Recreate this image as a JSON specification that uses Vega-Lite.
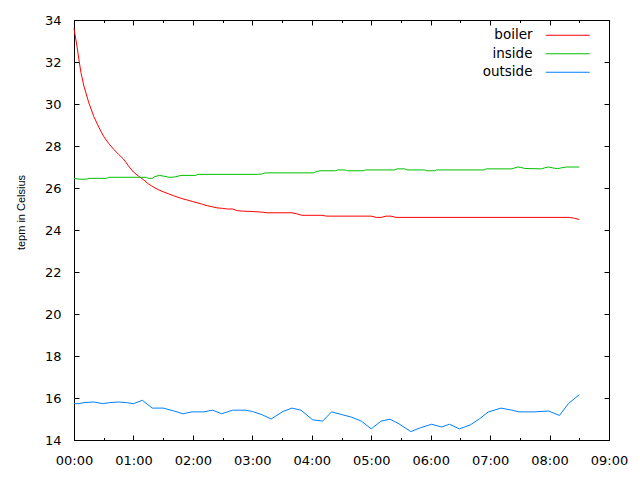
{
  "$schema": "https://vega.github.io/schema/vega-lite/v6.json",
  "autosize": {"type": "none"},
  "padding": {"left": 74, "top": 20, "right": 31, "bottom": 40},
  "width": 535,
  "height": 420,
  "background": "white",
  "data": {"values": [
    {"t": "2020-01-01T00:00", "series": "boiler", "v": 33.6},
    {"t": "2020-01-01T00:03", "series": "boiler", "v": 32.75},
    {"t": "2020-01-01T00:05", "series": "boiler", "v": 32.1},
    {"t": "2020-01-01T00:07", "series": "boiler", "v": 31.5},
    {"t": "2020-01-01T00:10", "series": "boiler", "v": 30.85},
    {"t": "2020-01-01T00:15", "series": "boiler", "v": 30.05},
    {"t": "2020-01-01T00:20", "series": "boiler", "v": 29.4},
    {"t": "2020-01-01T00:25", "series": "boiler", "v": 28.9},
    {"t": "2020-01-01T00:30", "series": "boiler", "v": 28.45},
    {"t": "2020-01-01T00:35", "series": "boiler", "v": 28.12},
    {"t": "2020-01-01T00:40", "series": "boiler", "v": 27.85},
    {"t": "2020-01-01T00:45", "series": "boiler", "v": 27.6},
    {"t": "2020-01-01T00:50", "series": "boiler", "v": 27.38},
    {"t": "2020-01-01T00:55", "series": "boiler", "v": 27.05},
    {"t": "2020-01-01T01:00", "series": "boiler", "v": 26.76},
    {"t": "2020-01-01T01:05", "series": "boiler", "v": 26.57},
    {"t": "2020-01-01T01:10", "series": "boiler", "v": 26.4},
    {"t": "2020-01-01T01:15", "series": "boiler", "v": 26.2},
    {"t": "2020-01-01T01:20", "series": "boiler", "v": 26.05},
    {"t": "2020-01-01T01:25", "series": "boiler", "v": 25.92},
    {"t": "2020-01-01T01:30", "series": "boiler", "v": 25.82},
    {"t": "2020-01-01T01:35", "series": "boiler", "v": 25.73},
    {"t": "2020-01-01T01:40", "series": "boiler", "v": 25.64},
    {"t": "2020-01-01T01:45", "series": "boiler", "v": 25.56},
    {"t": "2020-01-01T01:50", "series": "boiler", "v": 25.48},
    {"t": "2020-01-01T01:55", "series": "boiler", "v": 25.42},
    {"t": "2020-01-01T02:00", "series": "boiler", "v": 25.35},
    {"t": "2020-01-01T02:05", "series": "boiler", "v": 25.29},
    {"t": "2020-01-01T02:10", "series": "boiler", "v": 25.22},
    {"t": "2020-01-01T02:15", "series": "boiler", "v": 25.15},
    {"t": "2020-01-01T02:20", "series": "boiler", "v": 25.1},
    {"t": "2020-01-01T02:25", "series": "boiler", "v": 25.05},
    {"t": "2020-01-01T02:30", "series": "boiler", "v": 25.03},
    {"t": "2020-01-01T02:35", "series": "boiler", "v": 25.0},
    {"t": "2020-01-01T02:40", "series": "boiler", "v": 25.0},
    {"t": "2020-01-01T02:45", "series": "boiler", "v": 24.92},
    {"t": "2020-01-01T02:50", "series": "boiler", "v": 24.9},
    {"t": "2020-01-01T03:00", "series": "boiler", "v": 24.88},
    {"t": "2020-01-01T03:10", "series": "boiler", "v": 24.85},
    {"t": "2020-01-01T03:15", "series": "boiler", "v": 24.82},
    {"t": "2020-01-01T03:40", "series": "boiler", "v": 24.82},
    {"t": "2020-01-01T03:45", "series": "boiler", "v": 24.77},
    {"t": "2020-01-01T03:50", "series": "boiler", "v": 24.7},
    {"t": "2020-01-01T04:10", "series": "boiler", "v": 24.7},
    {"t": "2020-01-01T04:15", "series": "boiler", "v": 24.66},
    {"t": "2020-01-01T05:00", "series": "boiler", "v": 24.66},
    {"t": "2020-01-01T05:05", "series": "boiler", "v": 24.6},
    {"t": "2020-01-01T05:10", "series": "boiler", "v": 24.6},
    {"t": "2020-01-01T05:15", "series": "boiler", "v": 24.66},
    {"t": "2020-01-01T05:20", "series": "boiler", "v": 24.66},
    {"t": "2020-01-01T05:25", "series": "boiler", "v": 24.6},
    {"t": "2020-01-01T08:20", "series": "boiler", "v": 24.6},
    {"t": "2020-01-01T08:25", "series": "boiler", "v": 24.56},
    {"t": "2020-01-01T08:30", "series": "boiler", "v": 24.5},
    {"t": "2020-01-01T00:00", "series": "inside", "v": 26.46},
    {"t": "2020-01-01T00:05", "series": "inside", "v": 26.42},
    {"t": "2020-01-01T00:13", "series": "inside", "v": 26.42},
    {"t": "2020-01-01T00:15", "series": "inside", "v": 26.46},
    {"t": "2020-01-01T00:33", "series": "inside", "v": 26.46},
    {"t": "2020-01-01T00:35", "series": "inside", "v": 26.51},
    {"t": "2020-01-01T01:13", "series": "inside", "v": 26.51},
    {"t": "2020-01-01T01:15", "series": "inside", "v": 26.46},
    {"t": "2020-01-01T01:19", "series": "inside", "v": 26.46},
    {"t": "2020-01-01T01:21", "series": "inside", "v": 26.53},
    {"t": "2020-01-01T01:26", "series": "inside", "v": 26.6},
    {"t": "2020-01-01T01:31", "series": "inside", "v": 26.56},
    {"t": "2020-01-01T01:36", "series": "inside", "v": 26.51},
    {"t": "2020-01-01T01:41", "series": "inside", "v": 26.52},
    {"t": "2020-01-01T01:44", "series": "inside", "v": 26.55},
    {"t": "2020-01-01T01:48", "series": "inside", "v": 26.6},
    {"t": "2020-01-01T02:03", "series": "inside", "v": 26.6},
    {"t": "2020-01-01T02:05", "series": "inside", "v": 26.65},
    {"t": "2020-01-01T03:05", "series": "inside", "v": 26.65},
    {"t": "2020-01-01T03:10", "series": "inside", "v": 26.67},
    {"t": "2020-01-01T03:13", "series": "inside", "v": 26.72},
    {"t": "2020-01-01T04:02", "series": "inside", "v": 26.72},
    {"t": "2020-01-01T04:04", "series": "inside", "v": 26.77},
    {"t": "2020-01-01T04:08", "series": "inside", "v": 26.82},
    {"t": "2020-01-01T04:24", "series": "inside", "v": 26.82},
    {"t": "2020-01-01T04:26", "series": "inside", "v": 26.86},
    {"t": "2020-01-01T04:34", "series": "inside", "v": 26.86},
    {"t": "2020-01-01T04:36", "series": "inside", "v": 26.82},
    {"t": "2020-01-01T04:52", "series": "inside", "v": 26.82},
    {"t": "2020-01-01T04:54", "series": "inside", "v": 26.86},
    {"t": "2020-01-01T05:24", "series": "inside", "v": 26.86},
    {"t": "2020-01-01T05:26", "series": "inside", "v": 26.91},
    {"t": "2020-01-01T05:34", "series": "inside", "v": 26.91},
    {"t": "2020-01-01T05:36", "series": "inside", "v": 26.86},
    {"t": "2020-01-01T05:54", "series": "inside", "v": 26.86},
    {"t": "2020-01-01T05:56", "series": "inside", "v": 26.82},
    {"t": "2020-01-01T06:04", "series": "inside", "v": 26.82},
    {"t": "2020-01-01T06:06", "series": "inside", "v": 26.86},
    {"t": "2020-01-01T06:54", "series": "inside", "v": 26.86},
    {"t": "2020-01-01T06:56", "series": "inside", "v": 26.91},
    {"t": "2020-01-01T07:22", "series": "inside", "v": 26.91},
    {"t": "2020-01-01T07:25", "series": "inside", "v": 26.96},
    {"t": "2020-01-01T07:28", "series": "inside", "v": 27.0},
    {"t": "2020-01-01T07:31", "series": "inside", "v": 26.98},
    {"t": "2020-01-01T07:35", "series": "inside", "v": 26.93},
    {"t": "2020-01-01T07:52", "series": "inside", "v": 26.91},
    {"t": "2020-01-01T07:55", "series": "inside", "v": 26.96},
    {"t": "2020-01-01T07:59", "series": "inside", "v": 27.0},
    {"t": "2020-01-01T08:03", "series": "inside", "v": 26.96},
    {"t": "2020-01-01T08:08", "series": "inside", "v": 26.92},
    {"t": "2020-01-01T08:12", "series": "inside", "v": 26.96},
    {"t": "2020-01-01T08:17", "series": "inside", "v": 27.0},
    {"t": "2020-01-01T08:30", "series": "inside", "v": 27.0},
    {"t": "2020-01-01T00:00", "series": "outside", "v": 15.73},
    {"t": "2020-01-01T00:05", "series": "outside", "v": 15.73},
    {"t": "2020-01-01T00:10", "series": "outside", "v": 15.78},
    {"t": "2020-01-01T00:20", "series": "outside", "v": 15.81},
    {"t": "2020-01-01T00:29", "series": "outside", "v": 15.73},
    {"t": "2020-01-01T00:36", "series": "outside", "v": 15.78},
    {"t": "2020-01-01T00:45", "series": "outside", "v": 15.81},
    {"t": "2020-01-01T00:53", "series": "outside", "v": 15.78},
    {"t": "2020-01-01T01:00", "series": "outside", "v": 15.73},
    {"t": "2020-01-01T01:09", "series": "outside", "v": 15.89},
    {"t": "2020-01-01T01:19", "series": "outside", "v": 15.52},
    {"t": "2020-01-01T01:30", "series": "outside", "v": 15.52},
    {"t": "2020-01-01T01:41", "series": "outside", "v": 15.38},
    {"t": "2020-01-01T01:50", "series": "outside", "v": 15.25},
    {"t": "2020-01-01T01:59", "series": "outside", "v": 15.34},
    {"t": "2020-01-01T02:11", "series": "outside", "v": 15.34},
    {"t": "2020-01-01T02:20", "series": "outside", "v": 15.42},
    {"t": "2020-01-01T02:29", "series": "outside", "v": 15.25},
    {"t": "2020-01-01T02:40", "series": "outside", "v": 15.42},
    {"t": "2020-01-01T02:53", "series": "outside", "v": 15.42},
    {"t": "2020-01-01T03:00", "series": "outside", "v": 15.36},
    {"t": "2020-01-01T03:10", "series": "outside", "v": 15.2},
    {"t": "2020-01-01T03:19", "series": "outside", "v": 15.0},
    {"t": "2020-01-01T03:31", "series": "outside", "v": 15.36},
    {"t": "2020-01-01T03:40", "series": "outside", "v": 15.52},
    {"t": "2020-01-01T03:49", "series": "outside", "v": 15.42},
    {"t": "2020-01-01T04:01", "series": "outside", "v": 14.96},
    {"t": "2020-01-01T04:11", "series": "outside", "v": 14.9},
    {"t": "2020-01-01T04:20", "series": "outside", "v": 15.34},
    {"t": "2020-01-01T04:31", "series": "outside", "v": 15.2},
    {"t": "2020-01-01T04:40", "series": "outside", "v": 15.09},
    {"t": "2020-01-01T04:50", "series": "outside", "v": 14.9},
    {"t": "2020-01-01T05:00", "series": "outside", "v": 14.53},
    {"t": "2020-01-01T05:10", "series": "outside", "v": 14.9},
    {"t": "2020-01-01T05:19", "series": "outside", "v": 14.99},
    {"t": "2020-01-01T05:28", "series": "outside", "v": 14.77},
    {"t": "2020-01-01T05:40", "series": "outside", "v": 14.4},
    {"t": "2020-01-01T05:50", "series": "outside", "v": 14.59},
    {"t": "2020-01-01T06:01", "series": "outside", "v": 14.75},
    {"t": "2020-01-01T06:11", "series": "outside", "v": 14.62},
    {"t": "2020-01-01T06:19", "series": "outside", "v": 14.75},
    {"t": "2020-01-01T06:29", "series": "outside", "v": 14.53},
    {"t": "2020-01-01T06:40", "series": "outside", "v": 14.72},
    {"t": "2020-01-01T06:49", "series": "outside", "v": 15.0},
    {"t": "2020-01-01T06:58", "series": "outside", "v": 15.33},
    {"t": "2020-01-01T07:11", "series": "outside", "v": 15.52},
    {"t": "2020-01-01T07:22", "series": "outside", "v": 15.42},
    {"t": "2020-01-01T07:29", "series": "outside", "v": 15.34},
    {"t": "2020-01-01T07:45", "series": "outside", "v": 15.34},
    {"t": "2020-01-01T07:59", "series": "outside", "v": 15.38},
    {"t": "2020-01-01T08:10", "series": "outside", "v": 15.17},
    {"t": "2020-01-01T08:19", "series": "outside", "v": 15.73},
    {"t": "2020-01-01T08:30", "series": "outside", "v": 16.16}
  ]},
  "layer": [
    {
      "mark": {"type": "line", "strokeWidth": 1, "opacity": 0},
      "encoding": {
        "x": {"field": "t", "type": "temporal",
              "scale": {"domain": ["2020-01-01T00:00", "2020-01-01T09:00"], "nice": false},
              "axis": {"orient": "top", "tickCount": 9, "labels": false, "offset": -5, "tickSize": 5, "title": null}},
        "y": {"field": "v", "type": "quantitative",
              "scale": {"domain": [14, 34], "nice": false, "zero": false},
              "axis": {"orient": "right", "values": [14, 16, 18, 20, 22, 24, 26, 28, 30, 32, 34], "labels": false, "offset": -5, "tickSize": 5, "title": null}},
        "detail": {"field": "series"}
      }
    },
    {
      "mark": {"type": "line", "strokeWidth": 1, "opacity": 0},
      "encoding": {
        "x": {"field": "t", "type": "temporal",
              "axis": {"orient": "top", "tickCount": 18, "labels": false, "offset": -2.5, "tickSize": 2.5, "title": null}},
        "y": {"field": "v", "type": "quantitative", "axis": null},
        "detail": {"field": "series"}
      }
    },
    {
      "mark": {"type": "line", "strokeWidth": 1, "opacity": 0},
      "encoding": {
        "x": {"field": "t", "type": "temporal",
              "axis": {"orient": "bottom", "tickCount": 18, "labels": false, "offset": -2.5, "tickSize": 2.5, "title": null}},
        "y": {"field": "v", "type": "quantitative", "axis": null},
        "detail": {"field": "series"}
      }
    },
    {
      "mark": {"type": "line", "strokeWidth": 1},
      "encoding": {
        "x": {"field": "t", "type": "temporal",
              "axis": {"orient": "bottom", "format": "%H:%M", "tickCount": 9, "labelFlush": false, "offset": -5, "tickSize": 5, "labelPadding": 14, "title": null}},
        "y": {"field": "v", "type": "quantitative",
              "axis": {"orient": "left", "values": [14, 16, 18, 20, 22, 24, 26, 28, 30, 32, 34], "offset": -5, "tickSize": 5, "labelPadding": 13,
                       "title": "tepm in Celsius", "titleFont": "Liberation Sans", "titleFontSize": 11, "titleFontWeight": "normal", "titleColor": "black",
                       "titleX": -58, "titleY": 192, "titleAlign": "center", "titleBaseline": "middle", "titleAngle": -90}},
        "color": {"field": "series", "type": "nominal",
                  "scale": {"domain": ["boiler", "inside", "outside"], "range": ["#ff0000", "#00c000", "#0080ff"]},
                  "legend": {"orient": "none", "legendX": 487, "legendY": 8.5, "title": null, "symbolType": "M-4,0H4", "symbolSize": 121, "symbolStrokeWidth": 1,
                             "labelAlign": "right", "labelOffset": -42, "labelFont": "DejaVu Sans", "labelFontSize": 13.5, "labelColor": "black", "labelLimit": 0,
                             "rowPadding": 3.5, "padding": 0}}
      }
    }
  ],
  "resolve": {"axis": {"x": "independent", "y": "independent"}},
  "config": {
    "view": {"stroke": "black", "strokeWidth": 1},
    "axis": {"domain": false, "grid": false, "tickColor": "black", "tickWidth": 1, "labelColor": "black", "labelFont": "DejaVu Sans", "labelFontSize": 13}
  }
}
